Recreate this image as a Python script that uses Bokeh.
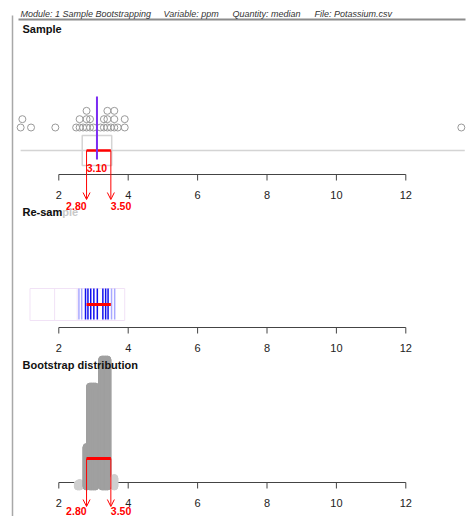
import numpy as np
from bokeh.plotting import figure
from bokeh.models import Range1d, Arrow, OpenHead
from bokeh.core.properties import value
from bokeh.embed import file_html
from bokeh.resources import INLINE

# ---------------- data ----------------
header_items = ["Module: 1 Sample Bootstrapping", "Variable: ppm",
                "Quantity: median", "File: Potassium.csv"]
panel_titles = ["Sample", "Re-sample", "Bootstrap distribution"]
sample_ppm = [0.90, 0.95, 1.20, 1.90,
              2.5, 2.6, 2.6, 2.7, 2.8, 2.8, 2.8, 2.9, 2.9, 3.0,
              3.2, 3.3, 3.3, 3.4, 3.4, 3.4, 3.5, 3.6, 3.6, 3.6, 3.7, 3.9, 3.9,
              13.6]
ci_bounds = [2.80, 3.50]
resample_recent = [2.77, 2.84, 2.92, 3.01, 3.11, 3.27, 3.35, 3.42]
resample_older = [2.58, 2.66, 3.52, 3.61]
resample_frame = [1.17, 3.90]
resample_inner = [1.88, 2.53]
boot_medians = [2.55, 2.6, 2.8, 2.9, 2.95, 3.0, 3.05, 3.25, 3.3, 3.35, 3.4, 3.6]
boot_counts = [6, 8, 80, 201, 201, 201, 201, 255, 255, 255, 255, 18]
ticks = [2, 4, 6, 8, 10, 12]

# ---------------- layout ----------------
W, H = 472, 516
PX_PER_UNIT = 34.7
X0 = 2 - 58.3 / PX_PER_UNIT
X1 = X0 + W / PX_PER_UNIT


def px2x(px):
    return X0 + px / PX_PER_UNIT


FONT = value("Liberation Sans")
RED = "#ff0000"

p = figure(width=W, height=H, output_backend="svg", toolbar_location=None,
           x_range=Range1d(X0, X1), y_range=Range1d(H, 0),
           x_axis_type=None, y_axis_type=None, min_border=0)
p.outline_line_color = None
p.xgrid.visible = False
p.ygrid.visible = False
p.background_fill_color = "white"

# ---- frame decorations ----
p.segment(x0=[px2x(12)], y0=[15], x1=[px2x(12)], y1=[H], line_color="#a8a8a8", line_width=1.5)
p.segment(x0=[px2x(18)], y0=[19], x1=[px2x(465)], y1=[19], line_color="#8c8c8c", line_width=2)
header_px = [20, 163, 232, 314]
p.text(x=[px2x(v) for v in header_px], y=[13.5] * 4, text=header_items,
       text_font=FONT, text_font_size="9px", text_font_style="italic",
       text_color="#333333", text_baseline="middle", text_align="left")


def draw_axis(y):
    p.segment(x0=[ticks[0]], y0=[y], x1=[ticks[-1]], y1=[y], line_color="#444444", line_width=1)
    p.segment(x0=ticks, y0=[y] * len(ticks), x1=ticks, y1=[y + 6] * len(ticks),
              line_color="#444444", line_width=1)
    p.text(x=ticks, y=[y + 20] * len(ticks), text=[str(t) for t in ticks],
           text_font=FONT, text_font_size="11px", text_color="#222222",
           text_align="center", text_baseline="middle")


def ci_labels(y):
    p.text(x=[ci_bounds[0]], y=[y], text=[f"{ci_bounds[0]:.2f}"], text_font=FONT,
           text_font_size="10.5px", text_font_style="bold", text_color=RED,
           text_align="right", text_baseline="middle")
    p.text(x=[ci_bounds[1]], y=[y], text=[f"{ci_bounds[1]:.2f}"], text_font=FONT,
           text_font_size="10.5px", text_font_style="bold", text_color=RED,
           text_align="left", text_baseline="middle")


def ci_arrows(y0, y1):
    for b in ci_bounds:
        p.add_layout(Arrow(end=OpenHead(size=7, line_color=RED, line_width=1),
                           x_start=b, y_start=y0, x_end=b, y_end=y1,
                           line_color=RED, line_width=1))


# ---------------- panel 1: sample ----------------
vals = np.array(sorted(sample_ppm))
median = float(np.median(vals))
q1, q3 = np.percentile(vals, [25, 75])

d = 0.1
placed = []
for v in vals:
    lvl = 0
    while any(abs(v - pv) < d - 1e-9 for pv, pl in placed if pl == lvl):
        lvl += 1
    placed.append((v, lvl))
sx = [a for a, _ in placed]
sy = [127 - 8.33 * b for _, b in placed]

draw_axis(174)
p.segment(x0=[vals.min()], y0=[150], x1=[vals.max() + 0.1], y1=[150], line_color="#d4d4d4", line_width=1.5)
p.quad(left=[q1], right=[q3], top=[135], bottom=[165], fill_color=None,
       line_color="#d4d4d4", line_width=1.5)
p.scatter(x=sx, y=sy, size=7, marker="circle", fill_color=None,
          line_color="#9a9a9a", line_width=1)
ci_arrows(150, 199)
p.segment(x0=[ci_bounds[0]], y0=[150], x1=[ci_bounds[1]], y1=[150], line_color=RED, line_width=2.5)
p.segment(x0=[median], y0=[96], x1=[median], y1=[159], line_color="#7b2cf2", line_width=2)
p.text(x=[median], y=[167], text=[f"{median:.2f}"], text_font=FONT,
       text_font_size="10.5px", text_font_style="bold", text_color=RED,
       text_align="center", text_baseline="middle")
ci_labels(205)

# ---------------- panel 2: re-sample ----------------
draw_axis(327)
p.quad(left=[resample_frame[0]], right=[resample_frame[1]], top=[288], bottom=[320],
       fill_color=None, line_color="#f1e2f6", line_width=1)
p.segment(x0=resample_inner, y0=[288] * 2, x1=resample_inner, y1=[320] * 2,
          line_color="#f1e2f6", line_width=1)
p.segment(x0=resample_older, y0=[288] * len(resample_older), x1=resample_older,
          y1=[319] * len(resample_older), line_color="#a8a8ff", line_width=1.5)
p.segment(x0=resample_recent, y0=[288] * len(resample_recent), x1=resample_recent,
          y1=[319] * len(resample_recent), line_color="#1010ee", line_width=1.5)
p.segment(x0=[ci_bounds[0]], y0=[304], x1=[ci_bounds[1]], y1=[304], line_color=RED, line_width=3)

# ---------------- panel 3: bootstrap distribution ----------------
draw_axis(482)
bx, by, bc = [], [], []
for v, c in zip(boot_medians, boot_counts):
    light = v < ci_bounds[0] or v > ci_bounds[1]
    for k in range(c):
        bx.append(v)
        by.append(486 - 0.5 * k)
        bc.append("#cfcfcf" if light else "#a0a0a0")
p.scatter(x=bx, y=by, size=7, marker="circle", fill_color=bc, line_color=bc, line_width=1)
ci_arrows(458, 506)
p.segment(x0=[ci_bounds[0]], y0=[458], x1=[ci_bounds[1]], y1=[458], line_color=RED, line_width=3)
ci_labels(510)

# ---- titles (drawn last, over the marks) ----
title_y = [28, 211, 364]
p.text(x=[px2x(22)], y=[title_y[1]], text=[panel_titles[1]], text_font=FONT,
       text_font_size="11px", text_font_style="bold", text_color="#c8c8c8",
       text_baseline="middle")
p.text(x=[px2x(22)] * 3, y=title_y,
       text=[panel_titles[0], panel_titles[1][:6], panel_titles[2]],
       text_font=FONT, text_font_size="11px", text_font_style="bold",
       text_color="#111111", text_baseline="middle")

open("out.html", "w").write(file_html(p, INLINE))
